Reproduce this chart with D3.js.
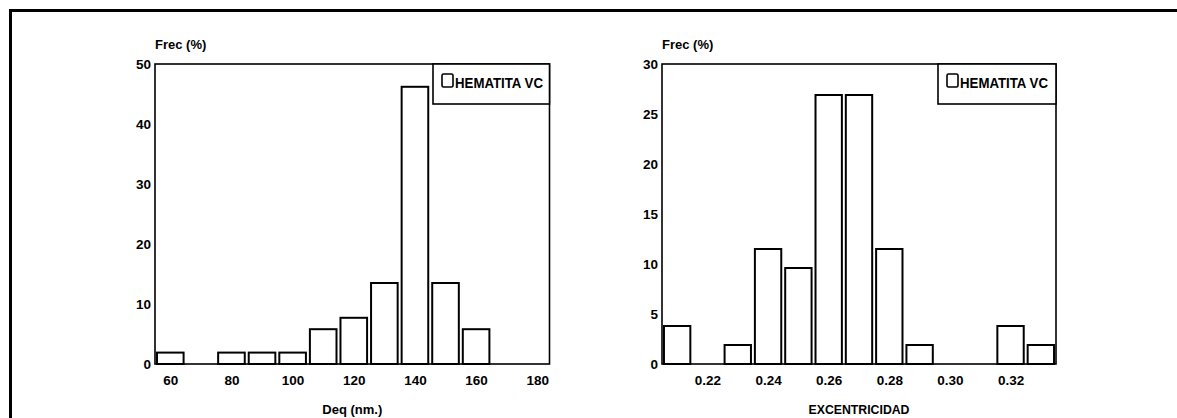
<!DOCTYPE html>
<html>
<head>
<meta charset="utf-8">
<script src="https://cdn.jsdelivr.net/npm/d3@7"></script>
<style>
  html, body { margin: 0; padding: 0; background: #fff; }
  svg { display: block; }
  text { font-family: "Liberation Sans Narrow", "Arial Narrow", "Liberation Sans", Arial, sans-serif; font-weight: bold; fill: #000; }
</style>
</head>
<body>
<svg id="chart" width="1177" height="418"></svg>
<script>
// Size distribution (Deq, nm) — bin centres and frequencies (%)
const deqBins = [60, 70, 80, 90, 100, 110, 120, 130, 140, 150, 160, 170, 180];
const deqFreq = [1.9, 0, 1.9, 1.9, 1.9, 5.8, 7.7, 13.5, 46.2, 13.5, 5.8, 0, 0];
const deqTicks = [60, 80, 100, 120, 140, 160, 180];
const deqFreqTicks = [0, 10, 20, 30, 40, 50];

// Eccentricity distribution — bin centres and frequencies (%)
const excBins = [0.21, 0.22, 0.23, 0.24, 0.25, 0.26, 0.27, 0.28, 0.29, 0.30, 0.31, 0.32, 0.33];
const excFreq = [3.8, 0, 1.9, 11.5, 9.6, 26.9, 26.9, 11.5, 1.9, 0, 0, 3.8, 1.9];
const excTicks = [0.22, 0.24, 0.26, 0.28, 0.30, 0.32];
const excFreqTicks = [0, 5, 10, 15, 20, 25, 30];

const seriesName = "HEMATITA VC";
const yTitle = "Frec (%)";

const svg = d3.select("#chart");

// outer frame (top and left rules)
svg.append("line").attr("x1", 9).attr("x2", 1177).attr("y1", 10.5).attr("y2", 10.5)
  .attr("stroke", "#000").attr("stroke-width", 3);
svg.append("line").attr("x1", 10.5).attr("x2", 10.5).attr("y1", 9).attr("y2", 418)
  .attr("stroke", "#000").attr("stroke-width", 3);

function histogram(cfg) {
  const { left, right, top, bottom, xDomain, yDomain, bins, freq, binWidth,
          xTicks, yTicks, xFormat, xTitle, xTitleWidth, legendX } = cfg;
  const x = d3.scaleLinear().domain(xDomain).range([left, right]);
  const y = d3.scaleLinear().domain(yDomain).range([bottom, top]);
  const g = svg.append("g");

  // bars
  const bw = (x(binWidth) - x(0)) * 0.87;
  g.selectAll("rect.bar").data(bins.map((b, i) => ({ b, v: freq[i] })).filter(d => d.v > 0))
    .join("rect").attr("class", "bar")
    .attr("x", d => x(d.b) - bw / 2)
    .attr("width", bw)
    .attr("y", d => y(d.v))
    .attr("height", d => y(0) - y(d.v))
    .attr("fill", "#fff").attr("stroke", "#000").attr("stroke-width", 2);

  // plot frame
  g.append("rect").attr("x", left).attr("y", top)
    .attr("width", right - left).attr("height", bottom - top)
    .attr("fill", "none").attr("stroke", "#000").attr("stroke-width", 1.6);

  // axes
  const xAxis = d3.axisBottom(x).tickValues(xTicks).tickSize(0).tickPadding(11).tickFormat(xFormat);
  const gx = g.append("g").attr("transform", `translate(0,${bottom})`).call(xAxis);
  gx.select(".domain").remove();
  gx.selectAll("text").style("font-size", "13.5px");

  const yAxis = d3.axisLeft(y).tickValues(yTicks).tickSize(0).tickPadding(4);
  const gy = g.append("g").attr("transform", `translate(${left},0)`).call(yAxis);
  gy.select(".domain").remove();
  gy.selectAll("text").style("font-size", "13.5px");

  // titles
  g.append("text").attr("x", left).attr("y", top - 15).style("font-size", "13px").text(yTitle);
  g.append("text").attr("x", (left + right) / 2).attr("y", 414).attr("text-anchor", "middle")
    .attr("textLength", xTitleWidth).attr("lengthAdjust", "spacingAndGlyphs")
    .style("font-size", "13.5px").text(xTitle);

  // legend
  const lg = g.append("g");
  lg.append("rect").attr("x", legendX).attr("y", top).attr("width", right - legendX).attr("height", 40)
    .attr("fill", "#fff").attr("stroke", "#000").attr("stroke-width", 1.6);
  lg.append("rect").attr("x", legendX + 9).attr("y", top + 10).attr("width", 11).attr("height", 13)
    .attr("rx", 1.5).attr("fill", "#fff").attr("stroke", "#000").attr("stroke-width", 1.6);
  lg.append("text").attr("x", legendX + 22).attr("y", top + 23.5)
    .attr("textLength", 88).attr("lengthAdjust", "spacingAndGlyphs")
    .style("font-size", "15px").text(seriesName);
}

histogram({
  left: 155, right: 549.5, top: 64, bottom: 364,
  xDomain: [55, 184], yDomain: [0, 50], bins: deqBins, freq: deqFreq, binWidth: 10,
  xTicks: deqTicks, yTicks: deqFreqTicks, xFormat: d3.format("d"),
  xTitle: "Deq (nm.)", xTitleWidth: 60, legendX: 433
});

histogram({
  left: 662, right: 1056, top: 64, bottom: 364,
  xDomain: [0.205, 0.335], yDomain: [0, 30], bins: excBins, freq: excFreq, binWidth: 0.01,
  xTicks: excTicks, yTicks: excFreqTicks, xFormat: d3.format(".2f"),
  xTitle: "EXCENTRICIDAD", xTitleWidth: 101, legendX: 938
});
</script>
</body>
</html>
